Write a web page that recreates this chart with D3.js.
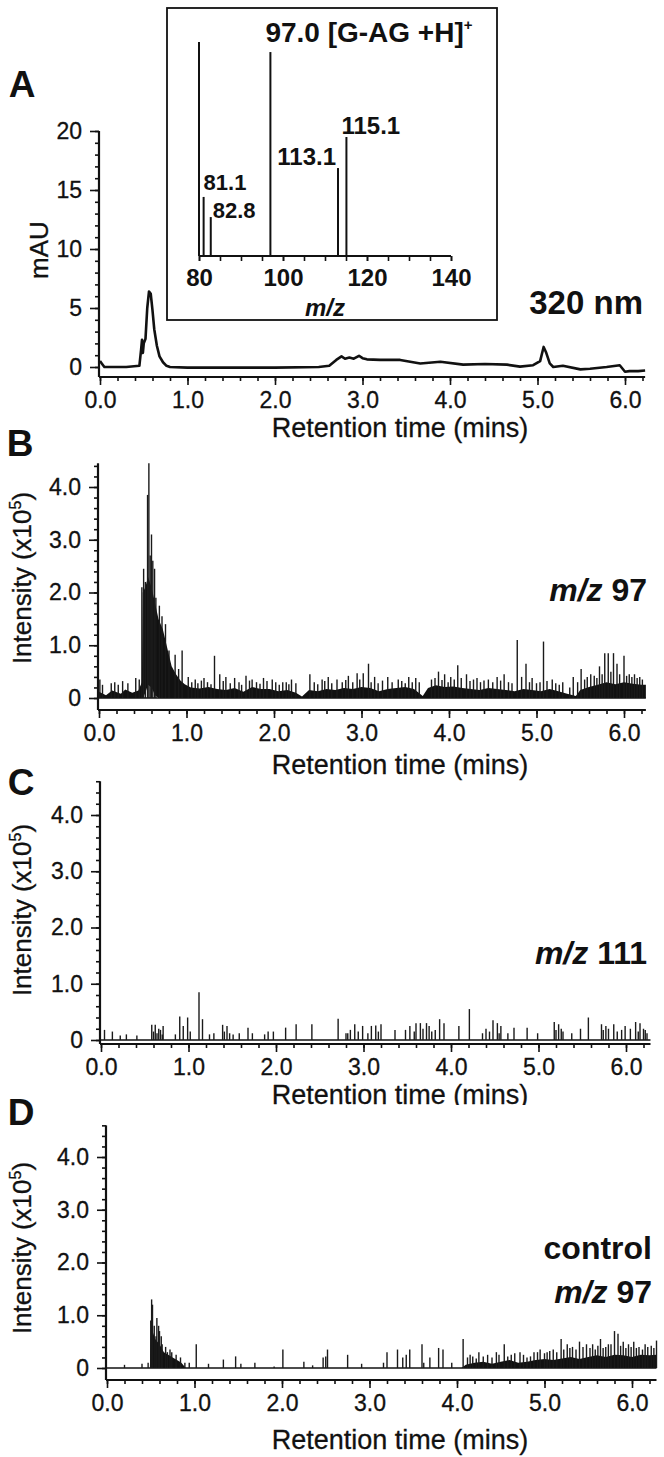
<!DOCTYPE html>
<html>
<head>
<meta charset="utf-8">
<script src="https://cdn.jsdelivr.net/npm/d3@7"></script>
<style>
body { margin: 0; background: #fff; }
svg { display: block; }
text { font-family: "Liberation Sans", Arial, sans-serif; fill: #111; }
</style>
</head>
<body>
<div id="chart"></div>
<script>
// ---- data ----

// A: UV trace at 320 nm (time in mins, mAU)
var timeA = [0, 0.02, 0.05, 0.1, 0.3, 0.45, 0.47, 0.48, 0.49, 0.5, 0.52, 0.54, 0.56, 0.58, 0.6, 0.62, 0.65, 0.68, 0.72, 0.76, 0.8, 1.0, 1.5, 2.0, 2.5, 2.62, 2.7, 2.76, 2.8, 2.85, 2.9, 2.96, 3.0, 3.05, 3.2, 3.43, 3.66, 3.89, 4.15, 4.4, 4.65, 4.8, 4.95, 5.03, 5.07, 5.1, 5.14, 5.18, 5.29, 5.49, 5.6, 5.79, 5.94, 6.0, 6.05, 6.15, 6.23];
var mauA = [0.5, 0.3, 0, 0, 0, 0.1, 1.5, 2.3, 1.2, 2.0, 2.4, 5.0, 6.4, 6.2, 4.8, 3.2, 1.8, 0.9, 0.4, 0.1, 0, -0.05, -0.05, -0.05, 0, 0.1, 0.6, 0.9, 0.7, 0.8, 0.7, 0.95, 0.75, 0.65, 0.6, 0.6, 0.3, 0.45, 0.2, 0.25, 0.2, 0.03, 0.15, 0.5, 1.7, 1.2, 0.3, 0, 0.1, -0.2, -0.15, 0, 0.15, -0.4, -0.35, -0.35, -0.3];

// inset: mass spectrum (m/z, relative abundance)
var mzInset = [80.0, 81.1, 82.8, 97.0, 113.1, 115.1];
var relInset = [100, 27.6, 18.2, 95.3, 41.1, 55.6];
var mzTicks = [80, 100, 120, 140];

// tick values
var rtTicks = [0, 1, 2, 3, 4, 5, 6];
var mauTicks = [0, 5, 10, 15, 20];
var intTicks = [0, 1, 2, 3, 4];

// B: m/z 97 (x10^5)
var spikeTimeB = [0.01, 0.04, 0.14, 0.18, 0.22, 0.27, 0.33, 0.42, 0.46, 0.49, 0.51, 0.53, 0.555, 0.57, 0.585, 0.6, 0.615, 0.635, 0.65, 0.69, 0.72, 0.76, 0.8, 0.87, 0.91, 0.95, 1.02, 1.1, 1.2, 1.32, 1.38, 1.45, 1.55, 1.68, 1.75, 1.88, 1.98, 2.1, 2.2, 2.41, 2.55, 2.62, 2.72, 2.85, 2.95, 3.02, 3.08, 3.15, 3.3, 3.42, 3.54, 3.62, 3.88, 3.95, 4.02, 4.1, 4.2, 4.32, 4.45, 4.55, 4.63, 4.78, 4.83, 4.88, 4.95, 5.08, 5.18, 5.3, 5.42, 5.51, 5.62, 5.72, 5.78, 5.82, 5.88, 5.92, 6.0, 6.06, 6.12, 6.18,
    1.06, 1.13, 1.17, 1.24, 1.28, 1.42, 1.5, 1.6, 1.63, 1.72, 1.8, 1.84, 1.92, 2.02, 2.06, 2.14, 2.17, 2.25, 2.46, 2.5, 2.58, 2.66, 2.78, 2.82, 2.9, 2.98, 3.11, 3.19, 3.24, 3.35, 3.46, 3.5, 3.58, 3.66, 3.8, 3.84, 3.92, 3.99, 4.06, 4.14, 4.24, 4.28, 4.36, 4.4, 4.5, 4.59, 4.68, 4.72, 4.92, 5.0, 5.04, 5.12, 5.22, 5.26, 5.38, 5.47, 5.55, 5.58, 5.66, 5.69, 5.75, 5.85, 5.95, 6.03, 6.09, 6.15, 6.21];
var spikeValB = [0.35, 0.25, 0.28, 0.3, 0.25, 0.32, 0.28, 0.38, 0.35, 2.1, 2.45, 2.2, 3.85, 4.45, 2.7, 3.1, 2.6, 2.45, 1.9, 1.75, 1.55, 1.4, 0.9, 0.82, 0.55, 0.9, 0.4, 0.35, 0.38, 0.8, 0.45, 0.4, 0.38, 0.42, 0.35, 0.38, 0.35, 0.3, 0.35, 0.45, 0.35, 0.4, 0.35, 0.42, 0.47, 0.47, 0.65, 0.4, 0.4, 0.35, 0.4, 0.38, 0.5, 0.45, 0.4, 0.62, 0.45, 0.38, 0.35, 0.4, 0.45, 1.1, 0.4, 0.65, 0.38, 1.07, 0.35, 0.3, 0.4, 0.55, 0.45, 0.6, 0.85, 0.85, 0.85, 0.65, 0.8, 0.45, 0.45, 0.4,
    0.3, 0.28, 0.33, 0.3, 0.26, 0.32, 0.28, 0.3, 0.25, 0.33, 0.3, 0.27, 0.32, 0.3, 0.25, 0.3, 0.26, 0.28, 0.3, 0.26, 0.32, 0.28, 0.3, 0.34, 0.3, 0.35, 0.3, 0.28, 0.33, 0.3, 0.32, 0.28, 0.3, 0.3, 0.35, 0.38, 0.34, 0.3, 0.35, 0.38, 0.32, 0.35, 0.3, 0.33, 0.3, 0.33, 0.3, 0.28, 0.3, 0.28, 0.3, 0.32, 0.28, 0.25, 0.2, 0.3, 0.35, 0.4, 0.42, 0.38, 0.45, 0.5, 0.45, 0.42, 0.4, 0.38, 0.35];
var bandTimeB = [0, 0.08, 0.15, 0.25, 0.3, 0.38, 0.45, 0.49, 0.5, 0.53, 0.56, 0.6, 0.64, 0.68, 0.73, 0.78, 0.83, 0.88, 0.93, 0.98, 1.05, 1.15, 1.25, 1.35, 1.45, 1.55, 1.65, 1.75, 1.85, 1.95, 2.05, 2.15, 2.25, 2.32, 2.4, 2.5, 2.6, 2.7, 2.8, 2.9, 3.0, 3.1, 3.2, 3.3, 3.4, 3.5, 3.6, 3.7, 3.76, 3.85, 3.95, 4.05, 4.15, 4.25, 4.35, 4.45, 4.55, 4.65, 4.75, 4.85, 4.95, 5.05, 5.15, 5.25, 5.35, 5.45, 5.5, 5.6, 5.7, 5.8, 5.9, 6.0, 6.1, 6.2, 6.25];
var bandHighB = [0.12, 0.05, 0.14, 0.08, 0.16, 0.1, 0.14, 0.3, 2.0, 2.1, 2.3, 2.1, 1.8, 1.5, 1.3, 0.95, 0.6, 0.45, 0.33, 0.26, 0.2, 0.18, 0.21, 0.17, 0.15, 0.19, 0.12, 0.21, 0.17, 0.17, 0.13, 0.15, 0.1, 0.03, 0.15, 0.13, 0.17, 0.15, 0.19, 0.17, 0.21, 0.19, 0.13, 0.17, 0.19, 0.21, 0.17, 0.04, 0.19, 0.24, 0.21, 0.22, 0.19, 0.17, 0.15, 0.19, 0.17, 0.15, 0.13, 0.17, 0.15, 0.13, 0.17, 0.13, 0.08, 0.04, 0.15, 0.21, 0.25, 0.3, 0.26, 0.3, 0.27, 0.25, 0.25];
var bandLowB = [0, 0, 0, 0, 0, 0, 0, 0, 0, 0.1, 0.25, 0.2, 0.05, 0, 0, 0, 0, 0, 0, 0, 0, 0, 0, 0, 0, 0, 0, 0, 0, 0, 0, 0, 0, 0, 0, 0, 0, 0, 0, 0, 0, 0, 0, 0, 0, 0, 0, 0, 0, 0, 0, 0, 0, 0, 0, 0, 0, 0, 0, 0, 0, 0, 0, 0, 0, 0, 0, 0, 0, 0, 0, 0, 0, 0, 0];

// C: m/z 111
var spikeTimeC = [0.04, 0.13, 0.22, 0.29, 0.41, 0.58, 0.62, 0.66, 0.71, 0.85, 0.9, 0.94, 0.99, 1.02, 1.12, 1.16, 1.24, 1.29, 1.39, 1.44, 1.51, 1.58, 1.68, 1.73, 1.87, 1.91, 1.97, 2.11, 2.23, 2.41, 2.71, 2.8, 2.85, 2.9, 2.99, 3.09, 3.14, 3.2, 3.36, 3.48, 3.53, 3.6, 3.65, 3.72, 3.75, 3.87, 3.92, 4.09, 4.21, 4.36, 4.4, 4.48, 4.53, 4.57, 4.65, 4.72, 4.87, 4.99, 5.18, 5.23, 5.28, 5.38, 5.48, 5.57, 5.72, 5.77, 5.86, 5.99, 6.11, 6.16, 6.2, 6.24,
    0.6, 0.64, 0.68, 0.7, 1.41, 1.47, 2.82, 2.94, 3.05, 3.17, 3.58, 3.68, 3.78, 3.82, 4.44, 4.55, 5.2, 5.26, 5.74, 5.8, 5.9, 5.95, 6.05, 6.14, 6.22];
var spikeValC = [0.18, 0.15, 0.08, 0.1, 0.08, 0.27, 0.27, 0.2, 0.25, 0.1, 0.42, 0.25, 0.4, 0.15, 0.85, 0.37, 0.1, 0.12, 0.27, 0.25, 0.1, 0.12, 0.22, 0.12, 0.1, 0.15, 0.15, 0.22, 0.28, 0.28, 0.38, 0.12, 0.18, 0.28, 0.25, 0.25, 0.26, 0.28, 0.18, 0.18, 0.25, 0.3, 0.3, 0.3, 0.25, 0.37, 0.3, 0.25, 0.55, 0.12, 0.2, 0.35, 0.3, 0.25, 0.12, 0.22, 0.22, 0.12, 0.32, 0.28, 0.15, 0.12, 0.2, 0.4, 0.28, 0.25, 0.28, 0.25, 0.32, 0.3, 0.2, 0.12,
    0.15, 0.12, 0.18, 0.1, 0.15, 0.12, 0.12, 0.15, 0.12, 0.15, 0.15, 0.2, 0.15, 0.18, 0.15, 0.12, 0.18, 0.2, 0.18, 0.2, 0.15, 0.18, 0.2, 0.15, 0.18];

// D: control, m/z 97
var spikeTimeD = [0.2, 0.4, 0.47, 0.5, 0.51, 0.52, 0.54, 0.56, 0.57, 0.59, 0.6, 0.62, 0.63, 0.67, 0.69, 0.72, 0.74, 0.79, 0.84, 0.89, 0.94, 1.02, 1.16, 1.33, 1.47, 1.53, 1.69, 1.91, 2.01, 2.25, 2.35, 2.47, 2.5, 2.52, 2.75, 2.91, 3.16, 3.2, 3.32, 3.38, 3.42, 3.46, 3.6, 3.62, 3.69, 3.79, 3.84, 3.94, 4.07, 4.15, 4.25, 4.35, 4.45, 4.54, 4.62, 4.72, 4.8, 4.88, 4.95, 5.03, 5.1, 5.19, 5.26, 5.32, 5.4, 5.48, 5.55, 5.64, 5.7, 5.76, 5.8, 5.84, 5.9, 5.96, 6.02, 6.08, 6.15, 6.22, 6.28,
    4.12, 4.18, 4.22, 4.3, 4.4, 4.48, 4.58, 4.66, 4.76, 4.84, 4.92, 5.0, 5.06, 5.14, 5.22, 5.29, 5.36, 5.44, 5.52, 5.58, 5.61, 5.67, 5.73, 5.87, 5.93, 5.99, 6.05, 6.12, 6.18, 6.25];
var spikeValD = [0.06, 0.08, 0.1, 0.9, 1.3, 1.2, 0.8, 0.6, 0.95, 0.8, 0.7, 0.6, 0.45, 0.4, 0.3, 0.35, 0.3, 0.25, 0.2, 0.1, 0.1, 0.45, 0.08, 0.16, 0.22, 0.08, 0.1, 0.03, 0.35, 0.12, 0.05, 0.2, 0.22, 0.35, 0.25, 0.08, 0.1, 0.3, 0.35, 0.2, 0.25, 0.35, 0.45, 0.1, 0.2, 0.38, 0.35, 0.1, 0.55, 0.25, 0.3, 0.25, 0.3, 0.45, 0.25, 0.3, 0.2, 0.3, 0.35, 0.3, 0.35, 0.55, 0.45, 0.4, 0.5, 0.45, 0.45, 0.55, 0.4, 0.45, 0.7, 0.65, 0.5, 0.45, 0.5, 0.4, 0.45, 0.42, 0.52,
    0.2, 0.22, 0.18, 0.22, 0.2, 0.25, 0.22, 0.28, 0.25, 0.22, 0.3, 0.28, 0.32, 0.3, 0.35, 0.38, 0.35, 0.4, 0.38, 0.35, 0.42, 0.38, 0.45, 0.42, 0.38, 0.4, 0.38, 0.35, 0.4, 0.38];
var bandTimeD = [0.49, 0.5, 0.52, 0.55, 0.6, 0.65, 0.7, 0.75, 0.8, 0.85, 0.9, 4.05, 4.1, 4.2, 4.3, 4.4, 4.5, 4.6, 4.7, 4.8, 4.9, 5.0, 5.1, 5.2, 5.3, 5.4, 5.5, 5.6, 5.7, 5.8, 5.9, 6.0, 6.1, 6.2, 6.28];
var bandHighD = [0, 0.6, 0.7, 0.55, 0.45, 0.3, 0.25, 0.2, 0.15, 0.1, 0, 0, 0.06, 0.1, 0.12, 0.08, 0.12, 0.15, 0.1, 0.12, 0.15, 0.17, 0.15, 0.18, 0.21, 0.17, 0.21, 0.24, 0.21, 0.25, 0.24, 0.21, 0.25, 0.24, 0.25];
var bandLowD = [0, 0, 0, 0, 0, 0, 0, 0, 0, 0, 0, 0, 0, 0, 0, 0, 0, 0, 0, 0, 0, 0, 0, 0, 0, 0, 0, 0, 0, 0, 0, 0, 0, 0, 0];

// ---- layout ----
var W = 664, H = 1457;
var pxPerMin = 87.5;
var tickFont = 23, titleFont = 27;

var svg = d3.select("#chart").append("svg")
    .attr("width", W)
    .attr("height", H);

// shared axis helpers
function styleAxis(g) {
    g.selectAll("path.domain").remove();
    g.selectAll("line").attr("stroke", "#111").attr("stroke-width", 1.6);
    g.selectAll("text").attr("font-size", tickFont).attr("fill", "#111")
        .attr("stroke", "#111").attr("stroke-width", 0.3);
}

function drawTimeAxis(x, axisY, xMax, titleY) {
    var minor = d3.range(0, xMax + 0.001, 0.2);
    svg.append("g")
        .attr("transform", "translate(0," + axisY + ")")
        .call(d3.axisBottom(x).tickValues(minor).tickSize(4).tickFormat(""))
        .call(styleAxis);
    svg.append("g")
        .attr("transform", "translate(0," + axisY + ")")
        .call(d3.axisBottom(x).tickValues(rtTicks).tickSize(8).tickPadding(7)
            .tickFormat(d3.format(".1f")))
        .call(styleAxis);
    svg.append("line")
        .attr("x1", x(0) - 1).attr("x2", x(xMax))
        .attr("y1", axisY).attr("y2", axisY)
        .attr("stroke", "#111").attr("stroke-width", 2.2);
    svg.append("text")
        .attr("x", 400).attr("y", titleY)
        .attr("text-anchor", "middle")
        .attr("font-size", titleFont)
        .attr("stroke", "#111").attr("stroke-width", 0.3)
        .text("Retention time (mins)");
}

function drawValueAxis(y, axisX, ticks, minorStep, topVal, axisY, fmt) {
    var minor = d3.range(0, topVal + 0.001, minorStep);
    svg.append("g")
        .attr("transform", "translate(" + axisX + ",0)")
        .call(d3.axisLeft(y).tickValues(minor).tickSize(4).tickFormat(""))
        .call(styleAxis);
    svg.append("g")
        .attr("transform", "translate(" + axisX + ",0)")
        .call(d3.axisLeft(y).tickValues(ticks).tickSize(9).tickPadding(8).tickFormat(fmt))
        .call(styleAxis);
    svg.append("line")
        .attr("x1", axisX).attr("x2", axisX)
        .attr("y1", y(topVal)).attr("y2", axisY)
        .attr("stroke", "#111").attr("stroke-width", 2.2);
}

function panelLetter(t, px, py) {
    svg.append("text")
        .attr("x", px).attr("y", py)
        .attr("dy", "0.36em")
        .attr("text-anchor", "middle")
        .attr("font-size", 37)
        .attr("font-weight", "bold")
        .text(t);
}

function intensityTitle(cy) {
    var t = svg.append("text")
        .attr("transform", "translate(31," + cy + ") rotate(-90)")
        .attr("text-anchor", "middle")
        .attr("font-size", 26)
        .attr("stroke", "#111").attr("stroke-width", 0.3);
    t.append("tspan").text("Intensity (x10");
    t.append("tspan").attr("font-size", 16).attr("dy", -10).text("5");
    t.append("tspan").attr("dy", 10).text(")");
}

function mzLabel(rx, by, num) {
    var t = svg.append("text")
        .attr("x", rx).attr("y", by)
        .attr("text-anchor", "end")
        .attr("font-size", 32)
        .attr("font-weight", "bold");
    t.append("tspan").attr("font-style", "italic").text("m/z");
    t.append("tspan").text(" " + num);
}

// ---- panel A ----
var xA = d3.scaleLinear().domain([0, 6.23]).range([100, 100 + 6.23 * pxPerMin]);
var yA = d3.scaleLinear().domain([0, 20]).range([367, 131]);

drawValueAxis(yA, 99, mauTicks, 1, 20, 377, d3.format("d"));
drawTimeAxis(xA, 377, 6.23, 437);

svg.append("path")
    .datum(d3.range(timeA.length))
    .attr("fill", "none")
    .attr("stroke", "#111")
    .attr("stroke-width", 2.6)
    .attr("stroke-linejoin", "round")
    .attr("d", d3.line().x(function(i){ return xA(timeA[i]); })
                        .y(function(i){ return yA(mauA[i]); }));

svg.append("text")
    .attr("transform", "translate(48,250) rotate(-90)")
    .attr("text-anchor", "middle")
    .attr("font-size", 26)
    .attr("stroke", "#111").attr("stroke-width", 0.3)
    .text("mAU");

svg.append("text")
    .attr("x", 643).attr("y", 314)
    .attr("text-anchor", "end")
    .attr("font-size", 33)
    .attr("font-weight", "bold")
    .text("320 nm");

panelLetter("A", 22, 84);

// inset spectrum
svg.append("rect")
    .attr("x", 167).attr("y", 8)
    .attr("width", 330).attr("height", 312)
    .attr("fill", "#fff")
    .attr("stroke", "#111")
    .attr("stroke-width", 1.8);

var xIn = d3.scaleLinear().domain([80, 140]).range([199, 451]);
var yIn = d3.scaleLinear().domain([0, 100]).range([256, 42]);

svg.append("g")
    .attr("transform", "translate(0,256)")
    .call(d3.axisBottom(xIn).tickValues(d3.range(80, 141, 5)).tickSize(5).tickFormat(""))
    .call(styleAxis);
svg.append("g")
    .attr("transform", "translate(0,256)")
    .call(d3.axisBottom(xIn).tickValues(mzTicks).tickSize(5).tickPadding(8).tickFormat(d3.format("d")))
    .call(styleAxis)
    .selectAll("text").attr("font-size", 24).attr("font-weight", "bold").attr("stroke-width", 0);
svg.append("line")
    .attr("x1", xIn(80)).attr("x2", xIn(140))
    .attr("y1", 256).attr("y2", 256)
    .attr("stroke", "#111").attr("stroke-width", 1.8);

svg.selectAll(".msPeak")
    .data(d3.range(mzInset.length))
    .enter()
    .append("line")
    .attr("class", "msPeak")
    .attr("x1", function(i){ return xIn(mzInset[i]); })
    .attr("x2", function(i){ return xIn(mzInset[i]); })
    .attr("y1", yIn(0))
    .attr("y2", function(i){ return yIn(relInset[i]); })
    .attr("stroke", "#111")
    .attr("stroke-width", 2);

function insetText(str, px, py, anchor, size) {
    return svg.append("text")
        .attr("x", px).attr("y", py)
        .attr("text-anchor", anchor)
        .attr("font-size", size)
        .attr("font-weight", "bold")
        .text(str);
}
var head = svg.append("text")
    .attr("x", xIn(97.0) - 5).attr("y", 42)
    .attr("font-size", 28)
    .attr("font-weight", "bold");
head.append("tspan").text("97.0 [G-AG +H]");
head.append("tspan").attr("font-size", 15).attr("dy", -12).text("+");
insetText("115.1", xIn(115.1) - 5, yIn(relInset[5]) - 3, "start", 24);
insetText("113.1", xIn(113.1) - 2, yIn(relInset[4]) - 3, "end", 24);
insetText("81.1", xIn(81.1), yIn(relInset[1]) - 7, "start", 22);
insetText("82.8", xIn(82.8) + 2, yIn(relInset[2]) + 1, "start", 22);

svg.append("text")
    .attr("x", 325).attr("y", 316)
    .attr("text-anchor", "middle")
    .attr("font-size", 24)
    .attr("font-weight", "bold")
    .attr("font-style", "italic")
    .text("m/z");

// ---- panels B, C, D ----
function drawMS(p, spikeT, spikeV, bandT, bandHi, bandLo) {
    var x = d3.scaleLinear().domain([0, p.xMax]).range([p.x0, p.x0 + p.xMax * pxPerMin]);
    var y = d3.scaleLinear().domain([0, 4]).range([p.zeroY, p.fourY]);

    drawValueAxis(y, p.x0 - 1, intTicks, 0.2, p.top, p.axisY,
        function(d){ return d === 0 ? "0" : d3.format(".1f")(d); });

    // baseline at zero
    svg.append("line")
        .attr("x1", x(0)).attr("x2", x(p.xMax))
        .attr("y1", y(0)).attr("y2", y(0))
        .attr("stroke", "#111").attr("stroke-width", 1.4);

    if (bandT) {
        svg.append("path")
            .datum(d3.range(bandT.length))
            .attr("fill", "#111")
            .attr("d", d3.area()
                .x(function(i){ return x(bandT[i]); })
                .y0(function(i){ return y(bandLo[i]); })
                .y1(function(i){ return y(bandHi[i]); }));
    }

    svg.append("g").selectAll("line")
        .data(d3.range(spikeT.length))
        .enter()
        .append("line")
        .attr("x1", function(i){ return x(spikeT[i]); })
        .attr("x2", function(i){ return x(spikeT[i]); })
        .attr("y1", y(0))
        .attr("y2", function(i){ return y(spikeV[i]); })
        .attr("stroke", "#1a1a1a")
        .attr("stroke-width", 1.4);

    drawTimeAxis(x, p.axisY, p.xMax, p.titleY);
    intensityTitle(p.labelY);
}

var panelB = { x0: 99, xMax: 6.25, zeroY: 698, fourY: 487, top: 4.45, axisY: 710, titleY: 774, labelY: 578 };
var panelC = { x0: 101, xMax: 6.28, zeroY: 1040, fourY: 815, top: 4.6, axisY: 1044, titleY: 1104, labelY: 910 };
var panelD = { x0: 107, xMax: 6.28, zeroY: 1368, fourY: 1157, top: 4.6, axisY: 1380, titleY: 1449, labelY: 1248 };

drawMS(panelB, spikeTimeB, spikeValB, bandTimeB, bandHighB, bandLowB);
panelLetter("B", 20, 443);
mzLabel(647, 601, "97");

drawMS(panelC, spikeTimeC, spikeValC, null, null, null);
panelLetter("C", 21, 782);
mzLabel(647, 964, "111");

// panel C's title is partly covered by panel D in the figure
svg.append("rect")
    .attr("x", 200).attr("y", 1105)
    .attr("width", 400).attr("height", 10)
    .attr("fill", "#fff");

drawMS(panelD, spikeTimeD, spikeValD, bandTimeD, bandHighD, bandLowD);
panelLetter("D", 21, 1112);
svg.append("text")
    .attr("x", 652).attr("y", 1259)
    .attr("text-anchor", "end")
    .attr("font-size", 32)
    .attr("font-weight", "bold")
    .text("control");
mzLabel(652, 1303, "97");
</script>
</body>
</html>
